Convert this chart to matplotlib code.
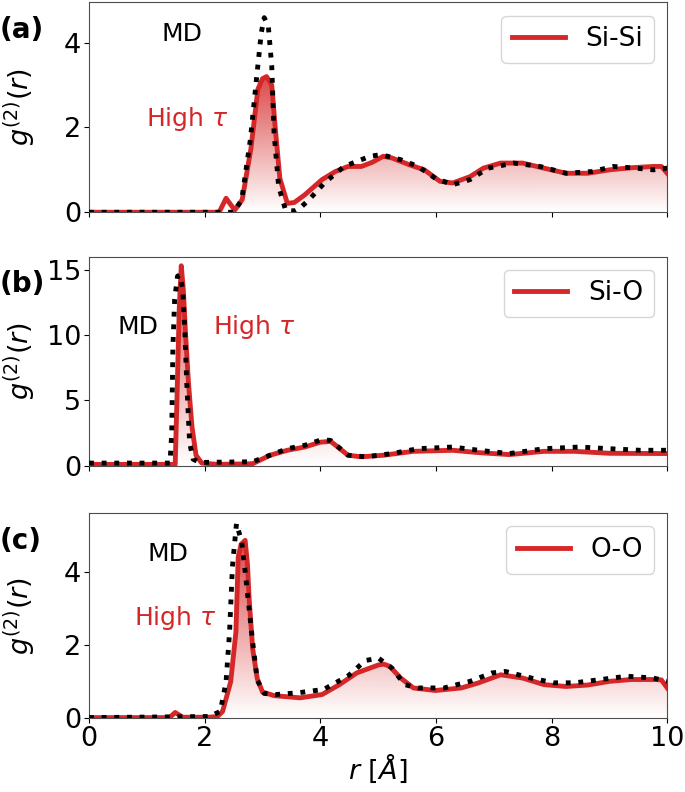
import numpy as np
import matplotlib
matplotlib.use("Agg")
import matplotlib.pyplot as plt
from matplotlib.colors import to_rgb
from matplotlib.patches import Polygon

RED = "#d62728"
FS = 19.5

# (a) Si-Si
r_sisi_ht = [0, 2.25, 2.37, 2.52, 2.65, 2.8, 2.92, 3.0, 3.07, 3.16, 3.22, 3.3, 3.43, 3.55, 3.73,
             4.03, 4.26, 4.48, 4.71, 4.9, 5.09, 5.24, 5.54, 5.8, 6.07, 6.29, 6.59, 6.82, 7.12,
             7.5, 7.87, 8.25, 8.63, 9.0, 9.38, 9.76, 9.9, 10]
g_sisi_ht = [0, 0.0, 0.33, 0.05, 0.3, 1.5, 2.9, 3.15, 3.2, 3.0, 2.0, 0.8, 0.21, 0.23, 0.41,
             0.77, 0.96, 1.08, 1.08, 1.18, 1.32, 1.28, 1.12, 1.0, 0.73, 0.69, 0.84, 1.04, 1.16,
             1.16, 1.04, 0.92, 0.92, 1.0, 1.05, 1.08, 1.08, 0.92]
r_sisi_md = [0, 2.5, 2.64, 2.79, 2.9, 2.98, 3.03, 3.1, 3.16, 3.2, 3.28, 3.4, 3.55, 3.65, 3.8,
             4.07, 4.41, 4.86, 5.05, 5.39, 5.69, 5.99, 6.29, 6.59, 6.9, 7.35, 7.8, 8.25, 8.7,
             9.07, 9.46, 9.76, 10]
g_sisi_md = [0, 0.0, 0.29, 1.71, 3.2, 4.24, 4.59, 4.4, 3.45, 1.87, 0.6, 0.05, 0.03, 0.1, 0.29,
             0.69, 1.08, 1.32, 1.36, 1.24, 1.08, 0.8, 0.65, 0.77, 1.04, 1.16, 1.08, 0.92, 0.96,
             1.08, 1.04, 1.0, 1.04]

# (b) Si-O
r_sio_ht = [0, 1.49, 1.52, 1.56, 1.595, 1.63, 1.67, 1.72, 1.78, 1.85, 1.95, 2.22, 2.83, 3.13,
            3.43, 3.73, 4.0, 4.18, 4.48, 4.71, 5.09, 5.61, 6.29, 6.74, 7.27, 7.87, 8.4, 9.0, 10]
g_sio_ht = [0.1, 0.1, 5.0, 12.0, 15.3, 13.5, 10.0, 6.3, 3.0, 0.8, 0.2, 0.1, 0.15, 0.8,
            1.18, 1.43, 1.8, 1.86, 0.8, 0.68, 0.8, 1.1, 1.18, 1.0, 0.85, 1.1, 1.1, 0.95, 0.93]
r_sio_md = [0, 1.40, 1.43, 1.45, 1.48, 1.53, 1.57, 1.62, 1.66, 1.69, 1.74, 1.8, 1.91, 2.83,
            3.13, 3.43, 3.73, 4.03, 4.18, 4.48, 4.79, 5.24, 5.69, 6.29, 6.74, 7.27, 7.87, 8.48,
            9.0, 9.53, 10]
g_sio_md = [0.2, 0.2, 2.5, 9.0, 12.7, 14.5, 14.6, 13.5, 10.0, 6.3, 1.75, 0.5, 0.25, 0.3,
            0.8, 1.3, 1.56, 2.0, 1.93, 0.8, 0.68, 0.93, 1.3, 1.43, 1.18, 0.93, 1.3, 1.43,
            1.3, 1.18, 1.18]

# (c) O-O
r_oo_ht = [0, 1.39, 1.49, 1.62, 2.07, 2.22, 2.31, 2.45, 2.54, 2.58, 2.63, 2.70, 2.74, 2.77,
           2.83, 2.91, 3.0, 3.2, 3.65, 4.03, 4.33, 4.63, 5.01, 5.1, 5.2, 5.39, 5.61, 5.99,
           6.44, 6.74, 7.12, 7.5, 7.87, 8.25, 8.63, 9.0, 9.38, 9.76, 9.9, 10]
g_oo_ht = [0.02, 0.02, 0.16, 0.03, 0.03, 0.05, 0.19, 1.0, 2.35, 4.4, 4.75, 4.86, 4.2, 3.24,
           1.9, 1.08, 0.72, 0.62, 0.56, 0.65, 0.92, 1.24, 1.46, 1.48, 1.42, 1.1, 0.83, 0.76,
           0.83, 0.97, 1.19, 1.1, 0.92, 0.87, 0.91, 1.01, 1.06, 1.06, 1.05, 0.83]
r_oo_md = [0, 2.08, 2.27, 2.37, 2.43, 2.48, 2.55, 2.64, 2.71, 2.77, 2.83, 2.91, 3.03, 3.23,
           3.63, 4.06, 4.49, 4.78, 5.01, 5.24, 5.46, 5.69, 6.14, 6.59, 6.97, 7.2, 7.65, 8.03,
           8.4, 8.85, 9.3, 9.76, 10]
g_oo_md = [0.02, 0.05, 0.19, 1.0, 2.35, 4.14, 5.32, 4.82, 3.87, 2.97, 2.08, 1.04, 0.68, 0.65,
           0.7, 0.79, 1.17, 1.58, 1.64, 1.37, 0.92, 0.83, 0.83, 1.01, 1.24, 1.28, 1.1, 0.97,
           0.97, 1.06, 1.15, 1.1, 1.01]

labels = ["Si-Si", "Si-O", "O-O"]
panel_tags = ["(a)", "(b)", "(c)"]


def gradient_fill(ax, x, y, color):
    x = np.asarray(x); y = np.asarray(y)
    ax.plot(x, y, color=color, lw=3.5, zorder=3)
    z = np.empty((200, 1, 4))
    z[:, :, :3] = to_rgb(color)
    z[:, :, 3] = np.linspace(0.0, 0.85, 200)[:, None]
    im = ax.imshow(z, aspect="auto", extent=[x.min(), x.max(), 0, y.max()],
                   origin="lower", zorder=1)
    verts = np.vstack([[x[0], 0], np.column_stack([x, y]), [x[-1], 0]])
    clip = Polygon(verts, facecolor="none", edgecolor="none", closed=True)
    ax.add_patch(clip)
    im.set_clip_path(clip)


fig = plt.figure(figsize=(6.85, 7.92), dpi=100)
boxes = [(0.13, 0.732, 0.844, 0.265), (0.13, 0.412, 0.844, 0.264), (0.13, 0.093, 0.844, 0.259)]
data = [(r_sisi_ht, g_sisi_ht, r_sisi_md, g_sisi_md),
        (r_sio_ht, g_sio_ht, r_sio_md, g_sio_md),
        (r_oo_ht, g_oo_ht, r_oo_md, g_oo_md)]
ylims = [(0, 4.95), (0, 16), (0, 5.6)]
yticks = [[0, 2, 4], [0, 5, 10, 15], [0, 2, 4]]
md_pos = [(1.6, 4.2), (0.85, 10.6), (1.36, 4.5)]
ht_pos = [(1.7, 2.2), (2.85, 10.6), (1.5, 2.75)]

for i, box in enumerate(boxes):
    ax = fig.add_axes(box)
    rh, gh, rm, gm = data[i]
    gradient_fill(ax, rh, gh, RED)
    ax.plot([], [], color=RED, lw=3.5, label=labels[i])
    ax.plot(rm, gm, color="black", lw=3.5, ls=(0, (1, 1.6)), zorder=4)
    ax.set_xlim(0, 10)
    ax.set_ylim(*ylims[i])
    ax.set_yticks(yticks[i])
    ax.set_xticks([0, 2, 4, 6, 8, 10])
    ax.tick_params(labelsize=FS, pad=2)
    if i < 2:
        ax.tick_params(labelbottom=False)
    else:
        ax.set_xlabel(r"$r\ [\AA]$", fontsize=FS, labelpad=0)
    ax.set_ylabel(r"$g^{(2)}(r)$", fontsize=FS)
    ax.yaxis.set_label_coords(-0.088, 0.5)
    for sp in ax.spines.values():
        sp.set_color("0.3")
    ax.text(*md_pos[i], "MD", fontsize=18, ha="center", va="center")
    ax.text(*ht_pos[i], r"High $\tau$", fontsize=18, color=RED, ha="center", va="center")
    ax.legend(loc="upper right", fontsize=19, handlelength=2.0)
    fig.text(0.0, box[1] + box[3] - 0.035, panel_tags[i], fontsize=20, fontweight="bold",
             ha="left", va="center")

fig.savefig("out.png", dpi=100)
